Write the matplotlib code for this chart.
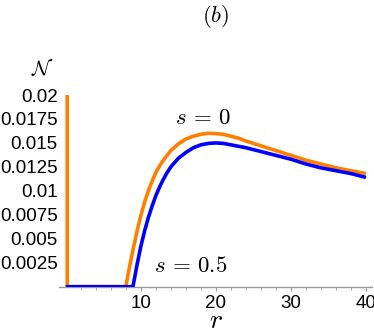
import matplotlib
matplotlib.use("Agg")
import matplotlib.pyplot as plt
import numpy as np

plt.rcParams['mathtext.fontset'] = 'cm'
plt.rcParams['font.family'] = ['Liberation Sans', 'DejaVu Sans']

# s = 0 (orange)
r_s0 = [0.2, 0.2, 0.2, 8.0, 8.5, 9.0, 9.5, 10.0, 10.5, 11.0, 11.5, 12.0, 12.5, 13.0, 13.5, 14.0, 15.0, 16.0, 17.0, 18.0, 19.0, 20.0, 21.0, 22.0, 23.0, 24.0, 25.0, 26.0, 27.0, 28.0, 29.0, 30.0, 31.0, 32.0, 33.0, 34.0, 35.0, 36.0, 37.0, 38.0, 39.0, 40.0]
n_s0 = [0.03, 0.0, 0.0, 0.0, 0.0021, 0.0040, 0.0058, 0.0074, 0.0088, 0.0100, 0.0110, 0.0119, 0.0126, 0.0132, 0.0137, 0.0142, 0.0149, 0.0154, 0.0157, 0.0159, 0.0160, 0.01597, 0.0159, 0.0157, 0.0155, 0.0152, 0.01495, 0.0147, 0.01445, 0.0142, 0.01395, 0.0137, 0.01345, 0.0132, 0.0130, 0.0128, 0.0126, 0.0124, 0.01225, 0.0121, 0.01195, 0.0118]
# s = 0.5 (blue)
r_s05 = [0.0, 8.95, 9.5, 10.0, 10.5, 11.0, 11.5, 12.0, 12.5, 13.0, 13.5, 14.0, 15.0, 16.0, 17.0, 18.0, 19.0, 20.0, 21.0, 22.0, 23.0, 24.0, 26.0, 28.0, 30.0, 32.0, 34.0, 36.0, 38.0, 40.0]
n_s05 = [0.0, 0.0, 0.0023, 0.0042, 0.0058, 0.0072, 0.0084, 0.0095, 0.0104, 0.0112, 0.0119, 0.0125, 0.0134, 0.0140, 0.0145, 0.0148, 0.01495, 0.0150, 0.01495, 0.0148, 0.01465, 0.0145, 0.0141, 0.0137, 0.0133, 0.0128, 0.0124, 0.0121, 0.0118, 0.0114]

yticks = [0.0025, 0.005, 0.0075, 0.01, 0.0125, 0.015, 0.0175, 0.02]
ytick_labels = ['0.0025', '0.005', '0.0075', '0.01', '0.0125', '0.015', '0.0175', '0.02']
xticks = [10, 20, 30, 40]

fig = plt.figure(figsize=(3.74, 3.33), dpi=100)
W, H = 374, 333
x0, x1 = 59, 372
y0, y1 = 286.7, 95
ax = fig.add_axes([x0 / W, 1 - y0 / H, (x1 - x0) / W, (y0 - y1) / H])

ax.plot(r_s0, n_s0, color='#FF8000', lw=2.6, solid_capstyle='butt', solid_joinstyle='round', zorder=3)
ax.plot(r_s05, n_s05, color='#0000FF', lw=2.6, solid_capstyle='butt', solid_joinstyle='round', zorder=4)

ax.set_xlim(-0.9, 40.8)
ax.set_ylim(0, 0.02)

for s in ['top', 'right', 'left']:
    ax.spines[s].set_visible(False)
ax.spines['bottom'].set_color('#999999')
ax.spines['bottom'].set_linewidth(1.0)
ax.spines['bottom'].set_zorder(2)

ax.set_xticks(xticks)
ax.set_xticks([x for x in range(2, 41, 2) if x % 10 != 0], minor=True)
ax.tick_params(axis='x', which='major', direction='out', length=3, width=0.8, color='#999999', labelsize=13.5, pad=3)
ax.tick_params(axis='x', which='minor', direction='out', length=2, width=0.6, color='#999999')

ax.set_yticks(yticks)
ax.set_yticklabels(ytick_labels)
ax.tick_params(axis='y', which='both', length=0, labelsize=13.5, pad=1)

fig.text(216 / W, 1 - 321 / H, r'$r$', fontsize=20, ha='center', va='center')
fig.text(42 / W, 1 - 68 / H, r'$\mathcal{N}$', fontsize=15, ha='center', va='center')
fig.text(216 / W, 1 - 17 / H, r'$(b)$', fontsize=16.5, ha='center', va='center')
fig.text(203 / W, 1 - 117 / H, r'$s\,=\,0$', fontsize=16.5, ha='center', va='center')
fig.text(191 / W, 1 - 266 / H, r'$s\,=\,0.5$', fontsize=16.5, ha='center', va='center')

fig.savefig('out.png', dpi=100)
